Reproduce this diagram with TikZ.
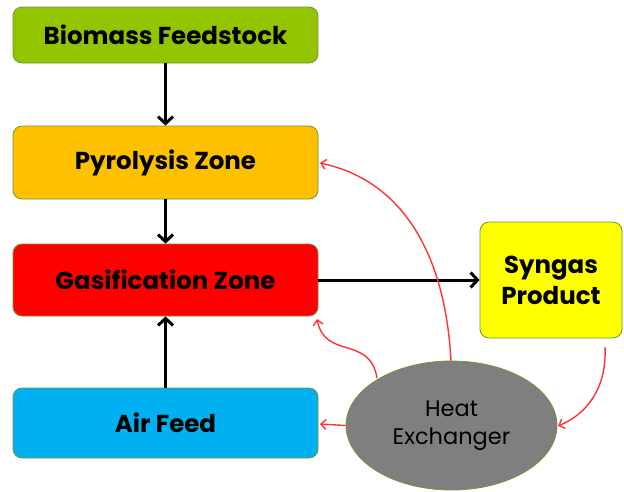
\documentclass[tikz,border=0pt]{standalone}
\usepackage{fontspec}
\setmainfont{Poppins}
\usetikzlibrary{arrows.meta,shapes.geometric}
\definecolor{lime}{HTML}{92C400}
\definecolor{orng}{HTML}{FFC000}
\definecolor{rd}{HTML}{FF0000}
\definecolor{cyn}{HTML}{00B0F0}
\definecolor{ylw}{HTML}{FFFF00}
\definecolor{gry}{HTML}{7F7F7F}
\definecolor{edge}{HTML}{76923C}
\definecolor{redline}{HTML}{FF3333}
\tikzset{
  zonebox/.style={draw=edge, line width=0.8pt, rounded corners=9pt, minimum width=305pt, font=\fontsize{24.5}{28}\selectfont\bfseries, text=black, align=center},
  flow/.style={line width=3pt, -{Straight Barb[length=7pt,width=15pt,line width=3pt]}},
  heat/.style={redline, line width=1.4pt, -{Straight Barb[length=5pt,width=10pt,line width=1.4pt]}}
}
\begin{document}
\begin{tikzpicture}[x=1pt,y=1pt]
\useasboundingbox (0,0) rectangle (624,-491);
\node[zonebox, fill=lime, minimum height=56pt] (bio) at (165.5,-35) {Biomass Feedstock};
\node[zonebox, fill=orng, minimum height=73pt] (pyro) at (165.5,-162.5) {Pyrolysis Zone};
\node[zonebox, fill=rd, minimum height=72pt] (gas) at (165.5,-280) {Gasification Zone};
\node[zonebox, fill=cyn, minimum height=70pt] (air) at (165.5,-423) {Air Feed};
\node[zonebox, fill=ylw, minimum width=142pt, minimum height=116pt, font=\fontsize{24.5}{31}\selectfont\bfseries] (syn) at (551,-280) {Syngas\\Product};
\node[ellipse, draw=edge, line width=0.8pt, fill=gry, minimum width=211pt, minimum height=129pt, inner sep=0pt, font=\fontsize{22.5}{28}\selectfont, align=center] (hx) at (451.5,-425.5) {Heat\\Exchanger};
\draw[flow] (bio.south) -- (pyro.north);
\draw[flow] (pyro.south) -- (gas.north);
\draw[flow] (air.north) -- (gas.south);
\draw[flow] (gas.east) -- (syn.west);
\coordinate (hxtop) at (451,-361);
\coordinate (hxul) at (377,-378);
\coordinate (pyrotip) at (320,-163);
\coordinate (gastip) at (317,-319);
\coordinate (airtip) at (320,-424);
\coordinate (synbot) at (605,-347);
\coordinate (hxright) at (558,-426);
\draw[heat] (hxtop) .. controls (445,-250) and (400,-180) .. (pyrotip);
\draw[heat] (hxul) .. controls (370,-335) and (325,-360) .. (gastip);
\draw[heat] (hx.west) -- (airtip);
\draw[heat] (synbot) .. controls (607,-390) and (585,-415) .. (hxright);
\end{tikzpicture}
\end{document}
